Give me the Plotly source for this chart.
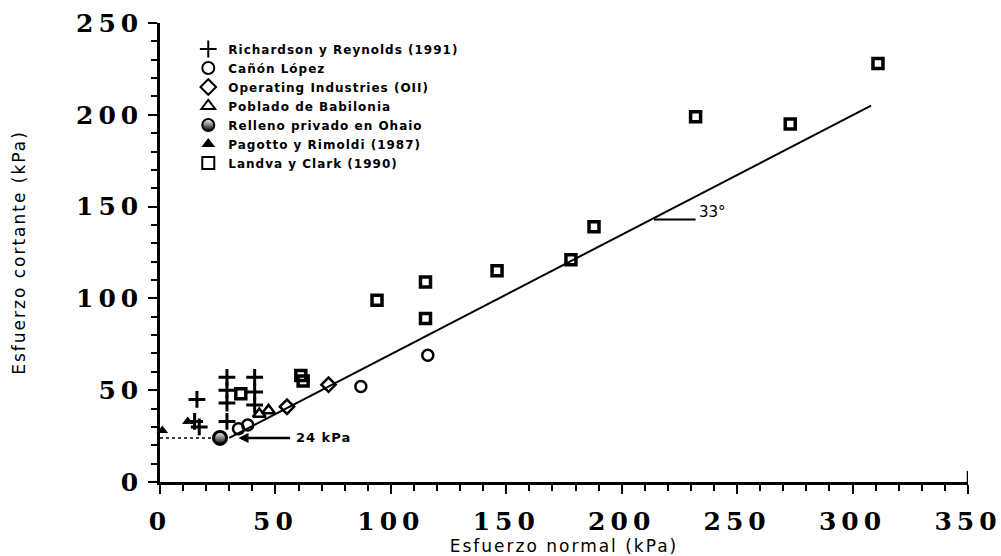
import plotly.graph_objects as go

# Ensayos de corte directo en residuos sólidos (valores en kPa)
rr_x = [16, 15, 17, 29, 29, 29, 29, 41, 41, 41]
rr_y = [45, 33, 30, 57, 50, 43, 33, 57, 49, 42]

cl_x = [34, 38, 87, 116]
cl_y = [29, 31, 52, 69]

oii_x = [55, 73]
oii_y = [41, 53]

pb_x = [43, 47]
pb_y = [37, 39]

rp_x = [26]
rp_y = [24]

pr_x = [1, 12]
pr_y = [28, 33]

lc_x = [35, 61, 62, 94, 115, 115, 146, 178, 188, 232, 273, 311]
lc_y = [48, 58, 55, 99, 109, 89, 115, 121, 139, 199, 195, 228]

# Envolvente de falla: c = 24 kPa, phi = 33°
fit_x = [30, 308]
fit_y = [24, 205]
cohesion = 24
cohesion_x = [0, 25]
cohesion_arrow_x = [34, 57]
phi_label = "33°"
phi_x = [214, 232]
phi_y = 143

x_ticks = [0, 50, 100, 150, 200, 250, 300, 350]
y_ticks = [0, 50, 100, 150, 200, 250]

BLACK = "black"


def spaced(text, px):
    return f'<span style="letter-spacing:{px}px">{text}</span>'


legend_font = dict(family="DejaVu Sans", size=12, color=BLACK, weight="bold")
tick_font = dict(family="DejaVu Serif", size=25, color=BLACK, weight="bold")
title_font = dict(family="DejaVu Sans", size=17, color=BLACK)

fig = go.Figure()

series = [
    ("Richardson y Reynolds (1991)", rr_x, rr_y,
     dict(symbol="cross-thin", size=12, line=dict(width=3, color=BLACK), color=BLACK)),
    ("Cañón López", cl_x, cl_y,
     dict(symbol="circle-open", size=11, line=dict(width=2.5, color=BLACK), color=BLACK)),
    ("Operating Industries (OII)", oii_x, oii_y,
     dict(symbol="diamond-open", size=11, line=dict(width=2.5, color=BLACK), color=BLACK)),
    ("Poblado de Babilonia", pb_x, pb_y,
     dict(symbol="triangle-up-open", size=11, line=dict(width=2.5, color=BLACK), color=BLACK)),
    ("Relleno privado en Ohaio", rp_x, rp_y,
     dict(symbol="circle", size=13, color="white",
          gradient=dict(type="vertical", color=BLACK),
          line=dict(width=3, color=BLACK))),
    ("Pagotto y Rimoldi (1987)", pr_x, pr_y,
     dict(symbol="triangle-up", size=10, color=BLACK, line=dict(width=0))),
    ("Landva y Clark (1990)", lc_x, lc_y,
     dict(symbol="square-open", size=10, line=dict(width=3.5, color=BLACK), color=BLACK)),
]

# Envolvente y cohesión
fig.add_trace(go.Scatter(x=fit_x, y=fit_y, mode="lines",
                         line=dict(color=BLACK, width=2), showlegend=False,
                         hoverinfo="skip"))
fig.add_trace(go.Scatter(x=cohesion_x, y=[cohesion, cohesion], mode="lines",
                         line=dict(color=BLACK, width=1.5, dash="dot"),
                         showlegend=False, hoverinfo="skip"))
fig.add_trace(go.Scatter(x=phi_x, y=[phi_y, phi_y], mode="lines",
                         line=dict(color=BLACK, width=2), showlegend=False,
                         hoverinfo="skip"))

for name, xs, ys, marker in series:
    fig.add_trace(go.Scatter(x=xs, y=ys, mode="markers", name=spaced(name, 1),
                             marker=marker, cliponaxis=False))

# Flecha y rótulo de la cohesión
fig.add_annotation(x=cohesion_arrow_x[0], y=cohesion, text="", showarrow=True,
                   ax=cohesion_arrow_x[1], ay=cohesion, axref="x", ayref="y",
                   arrowhead=2, arrowsize=0.8, arrowwidth=2.5, arrowcolor=BLACK)
fig.add_annotation(x=cohesion_arrow_x[1], y=cohesion, text=spaced(f"{cohesion} kPa", 1),
                   showarrow=False, xanchor="left", xshift=2,
                   font=dict(family="DejaVu Sans", size=13, color=BLACK, weight="bold"))
fig.add_annotation(x=phi_x[1], y=phi_y, text=phi_label, showarrow=False,
                   xanchor="left", yanchor="bottom", xshift=1, yshift=-4,
                   font=dict(family="DejaVu Sans", size=15, color=BLACK))

# Marca vertical en el extremo del eje x
fig.add_shape(type="line", x0=350, x1=350, y0=0, y1=6, xref="x", yref="y",
              line=dict(color=BLACK, width=2.5))

fig.update_layout(
    width=1001, height=556,
    margin=dict(l=160, r=33, t=23, b=74),
    plot_bgcolor="white", paper_bgcolor="white",
    legend=dict(x=0.035, y=0.975, xanchor="left", yanchor="top",
                font=legend_font, bgcolor="rgba(0,0,0,0)",
                tracegroupgap=0, itemsizing="constant", itemwidth=30),
)

fig.update_xaxes(
    range=[0, 350], tickvals=x_ticks,
    ticktext=[spaced(str(v), 5) for v in x_ticks],
    ticks="outside", ticklen=9, tickwidth=2, ticklabelstandoff=6,
    ticklabeloverflow="allow",
    tickcolor=BLACK, showline=True, linecolor=BLACK, linewidth=2.5,
    showgrid=False, zeroline=False, tickfont=tick_font, automargin=False,
    minor=dict(dtick=10, ticks="outside", ticklen=6, tickwidth=2, tickcolor=BLACK),
    title=dict(text=spaced("Esfuerzo normal (kPa)", 2), font=title_font, standoff=6),
)
fig.update_yaxes(
    range=[0, 250], tickvals=y_ticks,
    ticktext=[spaced(str(v), 5) for v in y_ticks],
    ticks="outside", ticklen=9, tickwidth=2, ticklabelstandoff=0,
    ticklabeloverflow="allow",
    tickcolor=BLACK, showline=True, linecolor=BLACK, linewidth=2.5,
    showgrid=False, zeroline=False, tickfont=tick_font, automargin=False,
    minor=dict(dtick=10, ticks="outside", ticklen=6, tickwidth=2, tickcolor=BLACK),
    title=dict(text=spaced("Esfuerzo cortante (kPa)", 2), font=title_font, standoff=47),
)

fig.write_html("out.html")
